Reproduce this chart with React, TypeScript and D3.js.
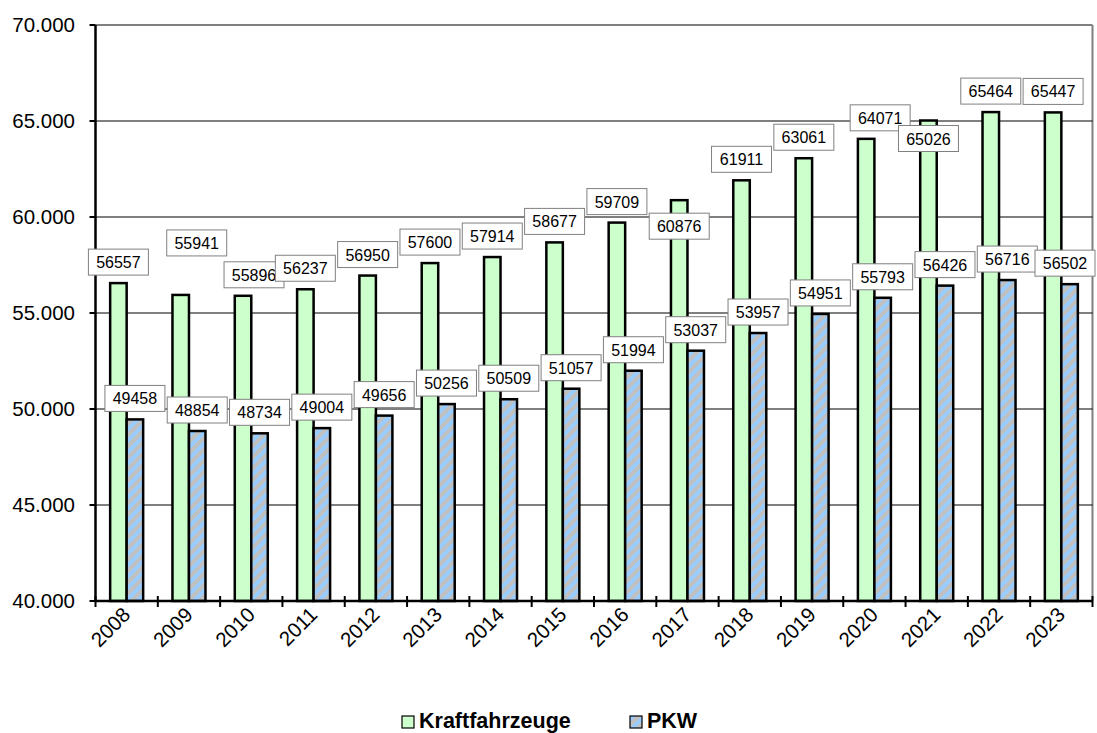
import React from "react";
import * as d3 from "d3";

const years = ["2008","2009","2010","2011","2012","2013","2014","2015","2016","2017","2018","2019","2020","2021","2022","2023"];
const kfz = [56557, 55941, 55896, 56237, 56950, 57600, 57914, 58677, 59709, 60876, 61911, 63061, 64071, 65026, 65464, 65447];
const pkw = [49458, 48854, 48734, 49004, 49656, 50256, 50509, 51057, 51994, 53037, 53957, 54951, 55793, 56426, 56716, 56502];
const yTicks = [40000, 45000, 50000, 55000, 60000, 65000, 70000];
const seriesNames = ["Kraftfahrzeuge", "PKW"];

// manual label nudges (px) used in the original to avoid overlaps
const kfzNudgeX = [0, 16, 11, 0, 0, 0, 0, 0, 0, 0, 0, 0, 14, 0, 0, 0];
const kfzNudgeY = [0, -31, 0, 0, 0, 0, 0, 0, 0, 47, 0, 0, 0, 39, 0, 0];

const W = 1097, H = 733;
const plot = { left: 95.5, right: 1092.5, top: 25, bottom: 601 };

const fmt = (v: number) => d3.format(",")(v).replace(/,/g, ".");

export default function App() {
  const x = d3.scaleBand<string>().domain(years).range([plot.left, plot.right]).paddingInner(0).paddingOuter(0);
  const xs = d3.scaleBand<string>().domain(seriesNames).range([0, x.bandwidth()]).paddingInner(0).paddingOuter(0.888);
  const y = d3.scaleLinear().domain([40000, 70000]).range([plot.bottom, plot.top]);
  const bw = xs.bandwidth();
  const font = "Arial, 'Liberation Sans', sans-serif";
  const boxW = 60, boxH = 26;

  const label = (cx: number, cy: number, v: number, key: string) => {
    let bx = cx - boxW / 2;
    if (bx + boxW > W - 2) bx = W - 2 - boxW;
    return (
      <g key={key}>
        <rect x={bx} y={cy - boxH / 2} width={boxW} height={boxH} fill="#fff" stroke="#808080" strokeWidth={1} />
        <text x={bx + boxW / 2} y={cy + 6} textAnchor="middle" fontSize={16} fontFamily={font} fill="#000">{v}</text>
      </g>
    );
  };

  return (
    <svg width={W} height={H} style={{ position: "absolute", left: 0, top: 0, background: "#fff" }}>
      <defs>
        <pattern id="hatch" patternUnits="userSpaceOnUse" width={8} height={8} patternTransform="rotate(45)">
          <rect width={8} height={8} fill="#c0c0c0" />
          <rect width={4} height={8} fill="#99ccff" />
        </pattern>
      </defs>
      {/* plot border */}
      <line x1={plot.left} x2={plot.right} y1={plot.top} y2={plot.top} stroke="#808080" strokeWidth={2} />
      <line x1={plot.right} x2={plot.right} y1={plot.top} y2={plot.bottom} stroke="#808080" strokeWidth={2} />
      {/* gridlines */}
      {yTicks.filter(t => t > 40000 && t < 70000).map(t => (
        <line key={t} x1={plot.left} x2={plot.right} y1={y(t)} y2={y(t)} stroke="#000" strokeWidth={1} />
      ))}
      {/* bars */}
      {years.map((yr, i) => (
        <g key={yr}>
          <rect x={x(yr)! + xs("Kraftfahrzeuge")!} y={y(kfz[i])} width={bw} height={plot.bottom - y(kfz[i])} fill="#ccffcc" stroke="#000" strokeWidth={2.5} />
          <rect x={x(yr)! + xs("PKW")!} y={y(pkw[i])} width={bw} height={plot.bottom - y(pkw[i])} fill="url(#hatch)" stroke="#000" strokeWidth={2.5} />
        </g>
      ))}
      {/* axes */}
      <line x1={plot.left} x2={plot.left} y1={plot.top} y2={plot.bottom + 1} stroke="#000" strokeWidth={2.5} />
      <line x1={plot.left} x2={plot.right} y1={plot.bottom} y2={plot.bottom} stroke="#000" strokeWidth={2.5} />
      {yTicks.map(t => (
        <g key={t}>
          <line x1={plot.left - 6} x2={plot.left} y1={y(t)} y2={y(t)} stroke="#000" strokeWidth={2} />
          <text x={75} y={y(t) + 7} textAnchor="end" fontSize={20.5} fontFamily={font} fill="#000">{fmt(t)}</text>
        </g>
      ))}
      {years.map((yr, i) => (
        <line key={"t" + yr} x1={x(yr)!} x2={x(yr)!} y1={plot.bottom - 5} y2={plot.bottom + 6} stroke="#000" strokeWidth={2} />
      ))}
      <line x1={plot.right} x2={plot.right} y1={plot.bottom - 5} y2={plot.bottom + 6} stroke="#000" strokeWidth={2} />
      {years.map(yr => {
        const cx = x(yr)! + x.bandwidth() / 2 + 5;
        const cy = 616;
        return (
          <text key={"l" + yr} x={cx} y={cy} textAnchor="end" fontSize={20.5} fontFamily={font} fill="#000" transform={`rotate(-45 ${cx} ${cy})`}>{yr}</text>
        );
      })}
      {/* data labels */}
      {years.map((yr, i) => label(x(yr)! + xs("Kraftfahrzeuge")! + bw / 2 + kfzNudgeX[i], y(kfz[i]) - 21 + kfzNudgeY[i], kfz[i], "k" + yr))}
      {years.map((yr, i) => label(x(yr)! + xs("PKW")! + bw / 2, y(pkw[i]) - 21, pkw[i], "p" + yr))}
      {/* legend */}
      <rect x={402} y={716} width={12} height={12} fill="#ccffcc" stroke="#000" strokeWidth={1.2} />
      <text x={419} y={728} fontSize={21.5} fontWeight="bold" fontFamily={font} fill="#000">{seriesNames[0]}</text>
      <rect x={630} y={716} width={12} height={12} fill="url(#hatch)" stroke="#000" strokeWidth={1.2} />
      <text x={647} y={728} fontSize={21.5} fontWeight="bold" fontFamily={font} fill="#000">{seriesNames[1]}</text>
    </svg>
  );
}
